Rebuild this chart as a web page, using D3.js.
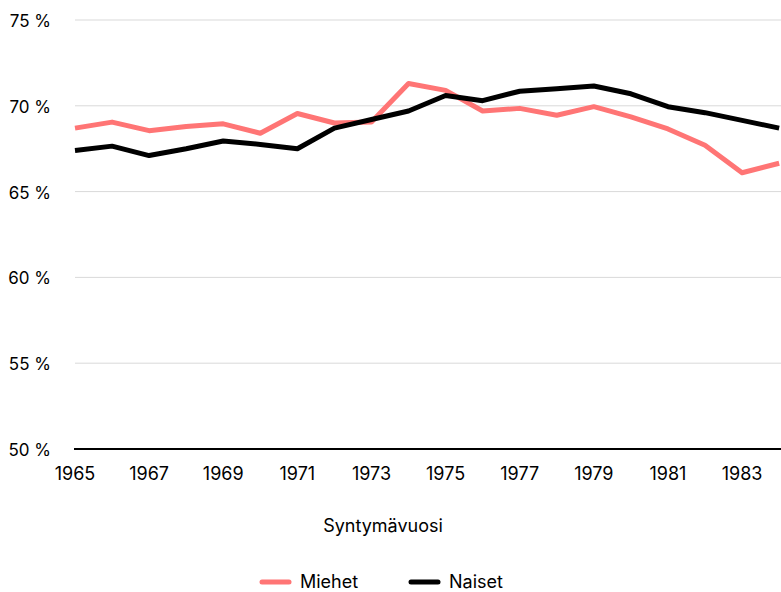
<!DOCTYPE html>
<html>
<head>
<meta charset="utf-8">
<script src="https://cdn.jsdelivr.net/npm/d3@7"></script>
<style>
  html, body { margin: 0; padding: 0; background: #fff; }
  svg { display: block; font-family: Inter, "Noto Sans", sans-serif; }
</style>
</head>
<body>
<svg id="chart" width="781" height="592"></svg>
<script>
// Syntymävuodet ja osuudet (%)
const years = [1965, 1966, 1967, 1968, 1969, 1970, 1971, 1972, 1973, 1974,
               1975, 1976, 1977, 1978, 1979, 1980, 1981, 1982, 1983, 1984];
const miehet = [68.7, 69.05, 68.55, 68.8, 68.95, 68.4, 69.55, 69.0, 69.05, 71.3,
                70.9, 69.7, 69.85, 69.45, 69.95, 69.35, 68.65, 67.7, 66.1, 66.65];
const naiset = [67.4, 67.65, 67.1, 67.5, 67.95, 67.75, 67.5, 68.7, 69.2, 69.7,
                70.6, 70.3, 70.85, 71.0, 71.15, 70.7, 69.95, 69.6, 69.15, 68.7];
const yTicks = [50, 55, 60, 65, 70, 75];
const xTicks = [1965, 1967, 1969, 1971, 1973, 1975, 1977, 1979, 1981, 1983];

const series = [
  { name: "Miehet", values: miehet, color: "#ff7575" },
  { name: "Naiset", values: naiset, color: "#000000" }
];

const svg = d3.select("#chart");
const mLeft = 75, mRight = 781, mTop = 20, mBottom = 449;

const x = d3.scaleLinear().domain([1965, 1984]).range([mLeft, mLeft + 19 * 37.06]);
const y = d3.scaleLinear().domain([50, 75]).range([mBottom, mTop]);

// Vaakasuorat apuviivat
svg.append("g")
  .selectAll("line")
  .data(yTicks.filter(t => t > 50))
  .join("line")
  .attr("x1", mLeft).attr("x2", mRight)
  .attr("y1", d => y(d)).attr("y2", d => y(d))
  .attr("stroke", "#d9d9d9").attr("stroke-width", 1);

// Y-akselin selitteet
svg.append("g")
  .selectAll("text")
  .data(yTicks)
  .join("text")
  .attr("x", 51).attr("y", d => y(d) + 7)
  .attr("text-anchor", "end")
  .attr("font-size", 17)
  .attr("fill", "#000")
  .text(d => d + " %");

// Viivat
const line = d3.line()
  .x((d, i) => x(years[i]))
  .y(d => y(d));

const plot = svg.append("g");
plot.append("clipPath").attr("id", "clip")
  .append("rect").attr("x", mLeft - 10).attr("y", 0).attr("width", mRight - mLeft + 10).attr("height", mBottom);
plot.selectAll("path")
  .data(series)
  .join("path")
  .attr("clip-path", "url(#clip)")
  .attr("d", d => line(d.values))
  .attr("fill", "none")
  .attr("stroke", d => d.color)
  .attr("stroke-width", 5)
  .attr("stroke-linejoin", "round");

// X-akseli
svg.append("line")
  .attr("x1", mLeft - 1).attr("x2", mRight)
  .attr("y1", mBottom).attr("y2", mBottom)
  .attr("stroke", "#000").attr("stroke-width", 2);

svg.append("g")
  .selectAll("text")
  .data(xTicks)
  .join("text")
  .attr("x", d => x(d)).attr("y", 480)
  .attr("text-anchor", "middle")
  .attr("font-size", 18)
  .attr("fill", "#000")
  .text(d => d);

svg.append("text")
  .attr("x", 383).attr("y", 532)
  .attr("text-anchor", "middle")
  .attr("font-size", 18)
  .attr("fill", "#000")
  .text("Syntymävuosi");

// Selite
const legend = svg.append("g");
const legendItems = [
  { name: "Miehet", color: "#ff7575", x: 262 },
  { name: "Naiset", color: "#000000", x: 411 }
];
legendItems.forEach(it => {
  legend.append("line")
    .attr("x1", it.x).attr("x2", it.x + 27)
    .attr("y1", 582).attr("y2", 582)
    .attr("stroke", it.color).attr("stroke-width", 5)
    .attr("stroke-linecap", "round");
  legend.append("text")
    .attr("x", it.x + 38).attr("y", 588)
    .attr("font-size", 18)
    .attr("fill", "#000")
    .text(it.name);
});
</script>
</body>
</html>
